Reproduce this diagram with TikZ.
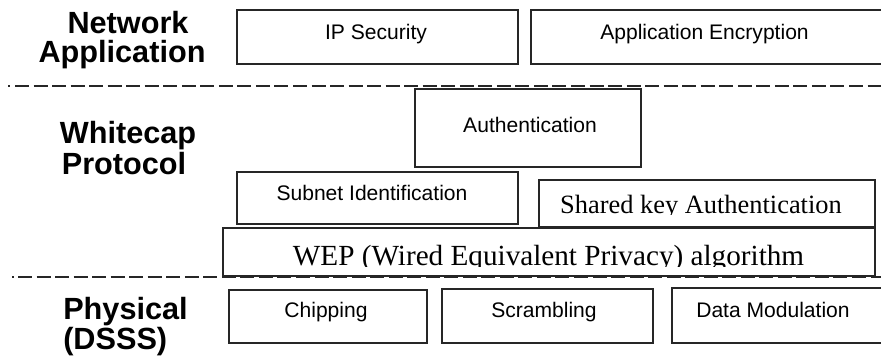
\documentclass[tikz,border=0pt]{standalone}
\usepackage{fontspec}
\setmainfont{Liberation Serif}
\setsansfont{Liberation Sans}
\usetikzlibrary{fit}
\tikzset{
  box/.style={draw=black!85, line width=1pt, inner sep=0pt},
  boxtext/.style={font=\sffamily\fontsize{15.8}{18}\selectfont, anchor=base, inner sep=0pt},
  layer/.style={font=\sffamily\bfseries\fontsize{23}{23}\selectfont, anchor=base, inner sep=0pt},
  serifmid/.style={font=\rmfamily\fontsize{19.8}{22}\selectfont, anchor=base, inner sep=0pt},
  serifbig/.style={font=\rmfamily\fontsize{21.9}{24}\selectfont, anchor=base, inner sep=0pt},
  layersep/.style={draw=black!85, line width=0.8pt, dash pattern=on 10.5pt off 3.4pt},
  sepdot/.style={draw=black!85, line width=0.8pt}
}
\begin{document}
\begin{tikzpicture}[x=0.75pt, y=-0.75pt]
\useasboundingbox (0,0) rectangle (881,356);
\clip (0,0) rectangle (881,356);

% layer names
\node[layer] (netA) at (128,34) {Network};
\node[layer] (netB) at (122,63) {Application};
\node[layer] (whcA) at (128,144) {Whitecap};
\node[layer] (whcB) at (124,175) {Protocol};
\node[layer, anchor=base west] (phyA) at (63,319) {Physical};
\node[layer, anchor=base west] (phyB) at (63,349) {(DSSS)};

% layer separators
\coordinate (s1a) at (8,86);   \coordinate (s1b) at (9.5,86);
\coordinate (s1c) at (15,86);  \coordinate (s1d) at (881,86);
\coordinate (s2a) at (12,277); \coordinate (s2b) at (13.5,277);
\coordinate (s2c) at (18,277); \coordinate (s2d) at (881,277);
\draw[sepdot] (s1a) -- (s1b);
\draw[layersep] (s1c) -- (s1d);
\draw[sepdot] (s2a) -- (s2b);
\draw[layersep] (s2c) -- (s2d);

% network application layer
\node[box, fit={(237,10) (518,64)}] (ipsec) {};
\node[boxtext] (ipsecT) at (376,40) {IP Security};
\node[box, fit={(531,10) (890,64)}] (appenc) {};
\node[boxtext] (appencT) at (704.5,39.5) {Application Encryption};

% whitecap protocol layer
\node[box, fit={(415,89) (641,167)}] (auth) {};
\node[boxtext] (authT) at (530,133) {Authentication};
\node[box, fit={(237,172) (518,224)}] (subnet) {};
\node[boxtext] (subnetT) at (372,200) {Subnet Identification};
\node[box, fit={(539,180) (875,227)}] (shkey) {};
\begin{scope}
  \clip (539,180) rectangle (875,214.2);
  \node[serifmid] (shkeyT) at (701,213) {Shared key Authentication};
\end{scope}
\node[box, fit={(223,228) (875,276)}] (wep) {};
\begin{scope}
  \clip (223,228) rectangle (875,266.2);
  \node[serifbig] (wepT) at (548.5,265) {WEP (Wired Equivalent Privacy) algorithm};
\end{scope}

% physical layer
\node[box, fit={(229,290) (427,343)}] (chip) {};
\node[boxtext] (chipT) at (326,317) {Chipping};
\node[box, fit={(442,289) (653,343)}] (scram) {};
\node[boxtext] (scramT) at (544,317) {Scrambling};
\node[box, fit={(672,288) (890,343)}] (dmod) {};
\node[boxtext] (dmodT) at (773,317) {Data Modulation};
\end{tikzpicture}
\end{document}
